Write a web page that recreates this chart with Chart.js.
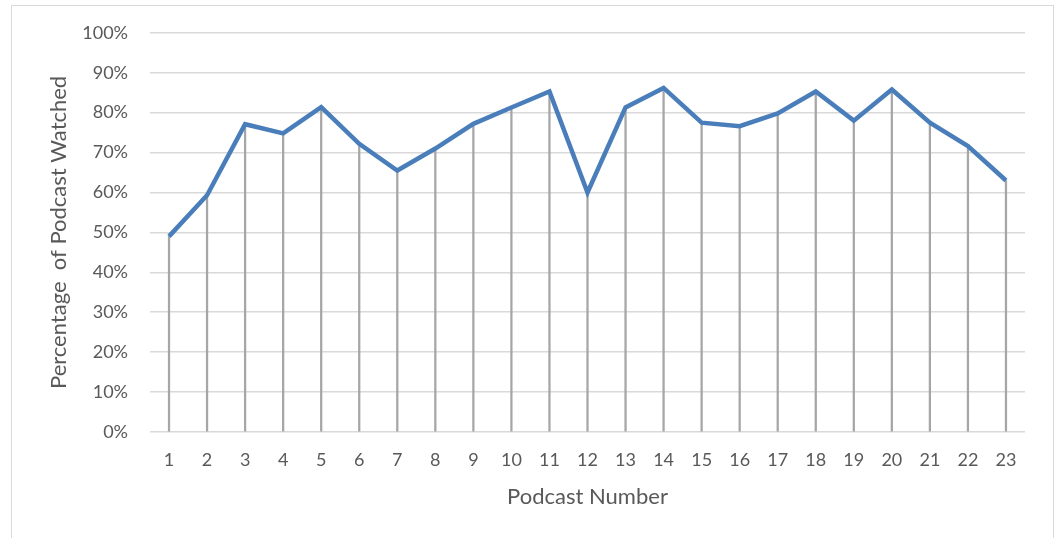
<!DOCTYPE html>
<html lang="en">
<head>
    <meta charset="UTF-8">
    <title>Percentage of Podcast Watched</title>
    <style>
        body {
            margin: 0;
            background: #ffffff;
            overflow: hidden;
        }

        .frame {
            position: absolute;
            left: 11px;
            top: 5px;
            width: 1041px;
            height: 600px;
            border: 1px solid #d9d9d9;
        }

        .chart-box {
            position: absolute;
            left: 0;
            top: 0;
            width: 1055px;
            height: 538px;
        }
    </style>
</head>
<body>
    <div class="frame"></div>
    <div class="chart-box">
        <canvas id="podcastChart" width="1055" height="538"></canvas>
    </div>
    <script src="https://cdn.jsdelivr.net/npm/chart.js"></script>
    <script>
        // podcast numbers and % watched
        const podcastNumbers = ['1', '2', '3', '4', '5', '6', '7', '8', '9', '10', '11', '12',
            '13', '14', '15', '16', '17', '18', '19', '20', '21', '22', '23'];
        const percentWatched = [49, 59.3, 77.1, 74.8, 81.4, 72.2, 65.5, 71, 77.2, 81.3, 85.3, 60,
            81.3, 86.2, 77.5, 76.6, 79.8, 85.3, 78, 85.8, 77.5, 71.6, 63];
        const yTicks = [0, 10, 20, 30, 40, 50, 60, 70, 80, 90, 100];

        const textColor = '#595959';
        const fontFamily = 'Lato, "Open Sans", sans-serif';

        const ctx = document.getElementById('podcastChart').getContext('2d');

        new Chart(ctx, {
            type: 'bar',
            data: {
                labels: podcastNumbers,
                datasets: [
                    {
                        type: 'line',
                        label: 'Watched',
                        data: percentWatched,
                        borderColor: '#4a7ebb',
                        borderWidth: 4.5,
                        pointRadius: 0,
                        tension: 0,
                        order: 0
                    },
                    {
                        // drop lines from each point to the axis
                        type: 'bar',
                        label: 'Drop',
                        data: percentWatched,
                        backgroundColor: '#a6a6a6',
                        barThickness: 1.6,
                        order: 1
                    }
                ]
            },
            options: {
                responsive: false,
                animation: false,
                layout: {
                    padding: { left: 0, top: 32, right: 30, bottom: 0 }
                },
                plugins: {
                    legend: { display: false },
                    tooltip: { enabled: false }
                },
                scales: {
                    x: {
                        offset: true,
                        grid: { display: false },
                        border: { display: false },
                        ticks: {
                            color: textColor,
                            font: { family: fontFamily, size: 18 },
                            padding: 9,
                            maxRotation: 0
                        },
                        title: {
                            display: true,
                            text: 'Podcast Number',
                            color: textColor,
                            font: { family: fontFamily, size: 22 },
                            padding: { top: 0, bottom: 28 }
                        },
                        afterFit: (scale) => { scale.height = 106; }
                    },
                    y: {
                        min: 0,
                        max: 100,
                        afterBuildTicks: (scale) => {
                            scale.ticks = yTicks.map(v => ({ value: v }));
                        },
                        grid: {
                            color: '#d9d9d9',
                            lineWidth: 1.5,
                            drawTicks: false
                        },
                        border: { display: false },
                        ticks: {
                            color: textColor,
                            font: { family: fontFamily, size: 18 },
                            padding: 22,
                            callback: (v) => v + '%'
                        },
                        title: {
                            display: true,
                            text: 'Percentage  of Podcast Watched',
                            color: textColor,
                            font: { family: fontFamily, size: 22 },
                            padding: { top: 46, bottom: 0 }
                        },
                        afterFit: (scale) => { scale.width = 150; }
                    }
                }
            }
        });
    </script>
</body>
</html>
